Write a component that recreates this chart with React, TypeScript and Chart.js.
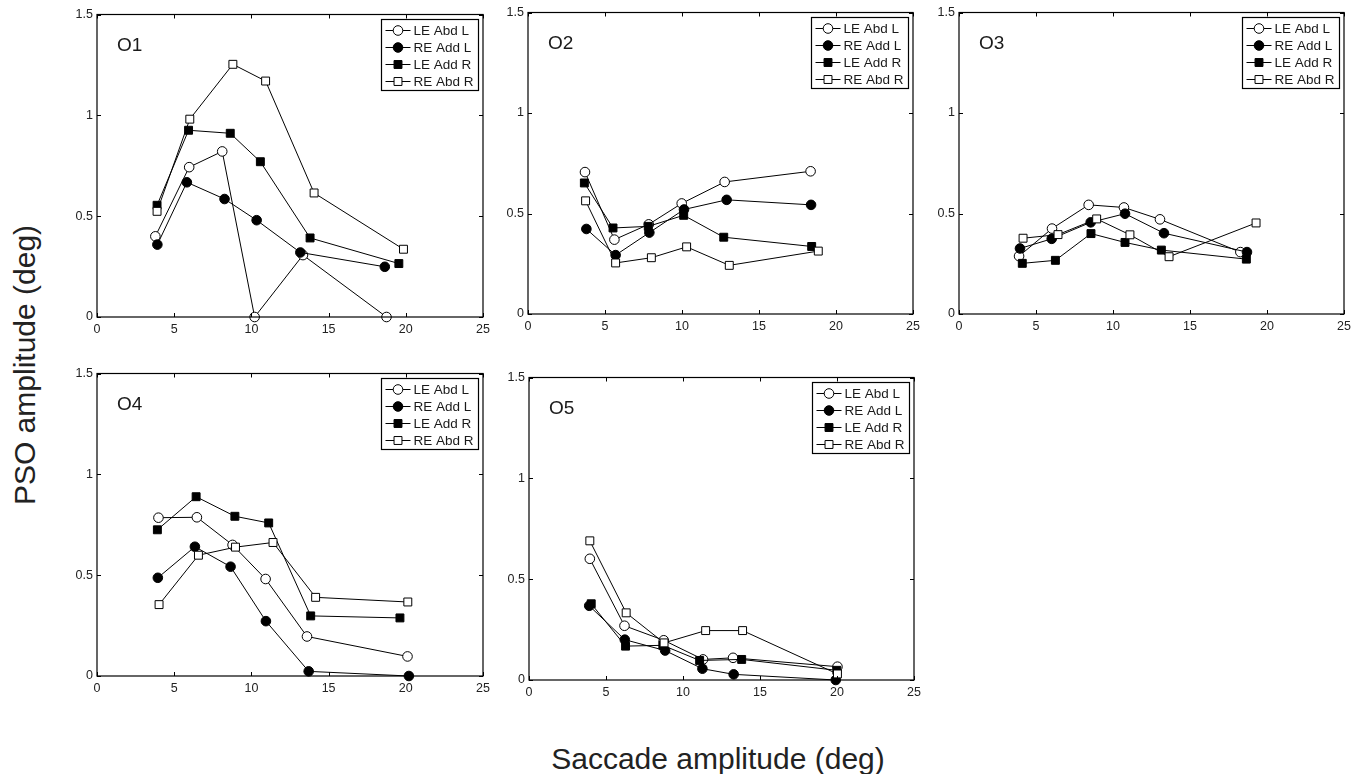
import React, { useEffect, useRef } from "react";
import { Chart, registerables } from "chart.js";

Chart.register(...registerables);

const FONT = '"Liberation Sans", Arial, Helvetica, sans-serif';

// ---- labels / ticks ----
const SERIES_LABELS = ["LE Abd L", "RE Add L", "LE Add R", "RE Abd R"];
const SERIES_STYLE = ["circle", "circle", "rect", "rect"];
const SERIES_FILL = ["#ffffff", "#000000", "#000000", "#ffffff"];
const PANEL_NAMES = ["O1", "O2", "O3", "O4", "O5"];
const X_TICKS = [0, 5, 10, 15, 20, 25];
const X_TICK_LABELS = ["0", "5", "10", "15", "20", "25"];
const Y_TICKS = [0, 0.5, 1, 1.5];
const Y_TICK_LABELS = ["0", "0.5", "1", "1.5"];
const X_TITLE = "Saccade amplitude (deg)";
const Y_TITLE = "PSO amplitude (deg)";

// ---- data: [saccade amplitude, PSO amplitude] ----
const O1_LE_ABD_L = [[3.78, 0.4], [5.97, 0.743], [8.11, 0.821], [10.21, 0], [13.34, 0.307], [18.75, 0]];
const O1_RE_ADD_L = [[3.91, 0.359], [5.82, 0.668], [8.26, 0.585], [10.34, 0.48], [13.17, 0.32], [18.64, 0.249]];
const O1_LE_ADD_R = [[3.89, 0.554], [5.93, 0.926], [8.63, 0.911], [10.58, 0.77], [13.8, 0.392], [19.55, 0.265]];
const O1_RE_ABD_R = [[3.89, 0.524], [6.01, 0.981], [8.8, 1.253], [10.92, 1.17], [14.06, 0.615], [19.85, 0.336]];

const O2_LE_ABD_L = [[3.7, 0.706], [5.61, 0.37], [7.84, 0.446], [9.98, 0.55], [12.77, 0.657], [18.35, 0.71]];
const O2_RE_ADD_L = [[3.79, 0.423], [5.69, 0.293], [7.88, 0.405], [10.13, 0.52], [12.9, 0.568], [18.38, 0.543]];
const O2_LE_ADD_R = [[3.66, 0.652], [5.52, 0.428], [7.81, 0.436], [10.11, 0.491], [12.71, 0.382], [18.42, 0.336]];
const O2_RE_ABD_R = [[3.74, 0.563], [5.69, 0.254], [8.01, 0.28], [10.3, 0.334], [13.07, 0.242], [18.85, 0.313]];

const O3_LE_ABD_L = [[3.9, 0.288], [6.04, 0.425], [8.42, 0.543], [10.71, 0.53], [13.05, 0.471], [18.27, 0.308]];
const O3_RE_ADD_L = [[3.96, 0.326], [6.02, 0.374], [8.55, 0.456], [10.78, 0.499], [13.31, 0.402], [18.7, 0.308]];
const O3_LE_ADD_R = [[4.11, 0.252], [6.26, 0.267], [8.57, 0.4], [10.78, 0.356], [13.14, 0.318], [18.66, 0.273]];
const O3_RE_ABD_R = [[4.16, 0.377], [6.43, 0.395], [8.94, 0.473], [11.1, 0.394], [13.64, 0.285], [19.29, 0.453]];

const O4_LE_ABD_L = [[3.98, 0.785], [6.47, 0.787], [8.78, 0.65], [10.92, 0.481], [13.6, 0.196], [20.11, 0.097]];
const O4_RE_ADD_L = [[3.94, 0.487], [6.34, 0.641], [8.65, 0.542], [10.94, 0.272], [13.71, 0.023], [20.2, 0]];
const O4_LE_ADD_R = [[3.91, 0.725], [6.42, 0.889], [8.93, 0.792], [11.12, 0.759], [13.84, 0.298], [19.62, 0.288]];
const O4_RE_ABD_R = [[4.02, 0.354], [6.57, 0.599], [8.97, 0.639], [11.4, 0.662], [14.16, 0.39], [20.13, 0.367]];

const O5_LE_ABD_L = [[3.95, 0.601], [6.2, 0.269], [8.75, 0.197], [11.3, 0.102], [13.25, 0.11], [20.03, 0.066]];
const O5_RE_ADD_L = [[3.91, 0.368], [6.22, 0.2], [8.84, 0.146], [11.26, 0.056], [13.29, 0.028], [19.92, 0]];
const O5_LE_ADD_R = [[4.04, 0.378], [6.27, 0.168], [8.69, 0.172], [11.08, 0.097], [13.81, 0.102], [19.99, 0.048]];
const O5_RE_ABD_R = [[3.95, 0.69], [6.31, 0.333], [8.77, 0.184], [11.47, 0.245], [13.87, 0.245], [20.03, 0.03]];

const PANEL_SERIES = [
  [O1_LE_ABD_L, O1_RE_ADD_L, O1_LE_ADD_R, O1_RE_ABD_R],
  [O2_LE_ABD_L, O2_RE_ADD_L, O2_LE_ADD_R, O2_RE_ABD_R],
  [O3_LE_ABD_L, O3_RE_ADD_L, O3_LE_ADD_R, O3_RE_ABD_R],
  [O4_LE_ABD_L, O4_RE_ADD_L, O4_LE_ADD_R, O4_RE_ABD_R],
  [O5_LE_ABD_L, O5_RE_ADD_L, O5_LE_ADD_R, O5_RE_ABD_R],
];

// ---- layout (plot-area boxes in page pixels) ----
const PANEL_BOXES = [
  { l: 97, t: 13, r: 483, b: 317 },
  { l: 528, t: 11, r: 913, b: 314 },
  { l: 959, t: 11, r: 1344, b: 314 },
  { l: 97, t: 372, r: 483, b: 676 },
  { l: 529, t: 376, r: 914, b: 680 },
];

const PAD_L = 45;
const PAD_T = 10;
const PAD_R = 12;
const PAD_B = 26;
const TICK_LEN = 4;

function markerRadius(style: string) {
  return style === "rect" ? 5.6 : 4.8;
}

function drawMarker(ctx: CanvasRenderingContext2D, style: string, fill: string, x: number, y: number) {
  const r = markerRadius(style);
  ctx.beginPath();
  if (style === "rect") {
    const s = r * Math.SQRT1_2;
    ctx.rect(x - s, y - s, 2 * s, 2 * s);
  } else {
    ctx.arc(x, y, r, 0, Math.PI * 2);
  }
  ctx.fillStyle = fill;
  ctx.fill();
  ctx.lineWidth = 1;
  ctx.strokeStyle = "#000";
  ctx.stroke();
}

const framePlugin = {
  id: "matlabFrame",
  afterDraw(chart: any) {
    const { ctx, chartArea } = chart;
    const { left, top, right, bottom } = chartArea;
    const xs = chart.scales.x;
    const ys = chart.scales.y;
    ctx.save();
    ctx.strokeStyle = "#000";
    ctx.lineWidth = 1.2;
    ctx.strokeRect(left, top, right - left, bottom - top);
    ctx.lineWidth = 1;
    ctx.beginPath();
    X_TICKS.forEach((v) => {
      const px = Math.round(xs.getPixelForValue(v)) + 0.5;
      ctx.moveTo(px, bottom);
      ctx.lineTo(px, bottom - TICK_LEN);
      ctx.moveTo(px, top);
      ctx.lineTo(px, top + TICK_LEN);
    });
    Y_TICKS.forEach((v) => {
      const py = Math.round(ys.getPixelForValue(v)) + 0.5;
      ctx.moveTo(left, py);
      ctx.lineTo(left + TICK_LEN, py);
      ctx.moveTo(right, py);
      ctx.lineTo(right - TICK_LEN, py);
    });
    ctx.stroke();
    ctx.restore();
  },
};

function makeLabelPlugin(text: string) {
  return {
    id: "panelLabel",
    afterDraw(chart: any) {
      const { ctx, chartArea } = chart;
      ctx.save();
      ctx.fillStyle = "#1a1a1a";
      ctx.font = `19px ${FONT}`;
      ctx.textAlign = "left";
      ctx.textBaseline = "alphabetic";
      ctx.fillText(text, chartArea.left + 20, chartArea.top + 36);
      ctx.restore();
    },
  };
}

const legendPlugin = {
  id: "boxLegend",
  afterDraw(chart: any) {
    const { ctx, chartArea } = chart;
    const w = 97;
    const h = 71;
    const x0 = Math.round(chartArea.right - 5 - w) + 0.5;
    const y0 = Math.round(chartArea.top + 4) + 0.5;
    ctx.save();
    ctx.fillStyle = "#fff";
    ctx.fillRect(x0, y0, w, h);
    ctx.strokeStyle = "#000";
    ctx.lineWidth = 1.2;
    ctx.strokeRect(x0, y0, w, h);
    chart.data.datasets.forEach((ds: any, i: number) => {
      const cy = y0 + 11 + i * 17;
      ctx.beginPath();
      ctx.lineWidth = 1;
      ctx.strokeStyle = "#000";
      ctx.moveTo(x0 + 4, cy);
      ctx.lineTo(x0 + 29, cy);
      ctx.stroke();
      drawMarker(ctx, ds.pointStyle, ds.pointBackgroundColor, x0 + 16.5, cy);
      ctx.fillStyle = "#1a1a1a";
      ctx.font = `13.5px ${FONT}`;
      ctx.textAlign = "left";
      ctx.textBaseline = "middle";
      ctx.fillText(ds.label, x0 + 32, cy + 0.5);
    });
    ctx.restore();
  },
};

function Panel({ index }: { index: number }) {
  const ref = useRef<HTMLCanvasElement>(null);
  const box = PANEL_BOXES[index];
  const w = box.r - box.l + PAD_L + PAD_R;
  const h = box.b - box.t + PAD_T + PAD_B;

  useEffect(() => {
    const series = PANEL_SERIES[index];
    const tickFont = { family: FONT, size: 12.5 };
    const chart = new Chart(ref.current as HTMLCanvasElement, {
      type: "line",
      data: {
        datasets: series.map((pts, i) => ({
          label: SERIES_LABELS[i],
          data: pts.map(([x, y]) => ({ x, y })),
          borderColor: "#000",
          borderWidth: 1,
          pointStyle: SERIES_STYLE[i],
          pointRadius: markerRadius(SERIES_STYLE[i]),
          pointBackgroundColor: SERIES_FILL[i],
          pointBorderColor: "#000",
          pointBorderWidth: 1,
          tension: 0,
          fill: false,
          clip: false,
          order: 4 - i,
        })),
      } as any,
      options: {
        animation: false,
        responsive: false,
        maintainAspectRatio: false,
        devicePixelRatio: 1,
        events: [],
        layout: { padding: { left: 0, top: PAD_T, right: PAD_R, bottom: 0 } },
        plugins: { legend: { display: false }, tooltip: { enabled: false }, title: { display: false } },
        scales: {
          x: {
            type: "linear",
            min: 0,
            max: 25,
            afterBuildTicks: (s: any) => {
              s.ticks = X_TICKS.map((v) => ({ value: v }));
            },
            afterFit: (s: any) => {
              s.height = PAD_B;
            },
            grid: { display: false, drawTicks: false },
            border: { display: false },
            ticks: {
              padding: 5,
              autoSkip: false,
              maxRotation: 0,
              color: "#222",
              font: tickFont,
              callback: (v: any) => X_TICK_LABELS[X_TICKS.indexOf(Number(v))] ?? "",
            },
          },
          y: {
            type: "linear",
            min: 0,
            max: 1.5,
            afterBuildTicks: (s: any) => {
              s.ticks = Y_TICKS.map((v) => ({ value: v }));
            },
            afterFit: (s: any) => {
              s.width = PAD_L;
            },
            grid: { display: false, drawTicks: false },
            border: { display: false },
            ticks: {
              padding: 4,
              autoSkip: false,
              color: "#222",
              font: tickFont,
              callback: (v: any) => Y_TICK_LABELS[Y_TICKS.indexOf(Number(v))] ?? "",
            },
          },
        },
      } as any,
      plugins: [framePlugin, makeLabelPlugin(PANEL_NAMES[index]), legendPlugin],
    });
    return () => chart.destroy();
  }, [index]);

  return (
    <canvas
      ref={ref}
      width={w}
      height={h}
      style={{ position: "absolute", left: box.l - PAD_L, top: box.t - PAD_T, width: w, height: h }}
    />
  );
}

export default function App() {
  return (
    <div
      style={{
        position: "absolute",
        left: 0,
        top: 0,
        width: 1369,
        height: 774,
        background: "#fff",
        overflow: "hidden",
      }}
    >
      {PANEL_NAMES.map((_, i) => (
        <Panel key={i} index={i} />
      ))}
      <div
        style={{
          position: "absolute",
          left: 718 - 250,
          top: 744,
          width: 500,
          height: 30,
          lineHeight: "30px",
          fontSize: 30,
          fontFamily: FONT,
          color: "#222",
          textAlign: "center",
          whiteSpace: "nowrap",
        }}
      >
        {X_TITLE}
      </div>
      <div
        style={{
          position: "absolute",
          left: 24.6 - 200,
          top: 365 - 15,
          width: 400,
          height: 30,
          lineHeight: "30px",
          fontSize: 30,
          fontFamily: FONT,
          color: "#222",
          textAlign: "center",
          whiteSpace: "nowrap",
          transform: "rotate(-90deg)",
        }}
      >
        {Y_TITLE}
      </div>
    </div>
  );
}
